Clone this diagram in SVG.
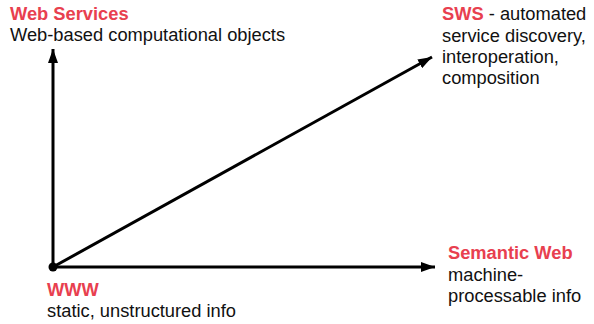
<svg xmlns="http://www.w3.org/2000/svg" width="594" height="324" viewBox="0 0 594 324">
<defs>
<marker id="ah" viewBox="0 0 14 10" refX="14" refY="5" markerWidth="14" markerHeight="10" markerUnits="userSpaceOnUse" orient="auto">
<path d="M0,0 L14,5 L0,10 Z" fill="#000"/>
</marker>
</defs>
<style>
text{font-family:"Liberation Sans",Arial,sans-serif;font-size:18.3px;fill:#111}
.r{fill:#e8404f;font-weight:bold}
.ln{stroke:#000;stroke-width:3;fill:none;marker-end:url(#ah)}
</style>
<rect width="594" height="324" fill="#fff"/>
<g id="connectors">
<line class="ln" x1="53" y1="267" x2="53" y2="49"/>
<line class="ln" x1="53" y1="267" x2="435" y2="267"/>
<line class="ln" x1="53" y1="267" x2="432" y2="57"/>
<circle cx="53" cy="267" r="4.5" fill="#000"/>
</g>
<g id="web-services">
<text x="10" y="20" class="r">Web Services</text>
<text x="10" y="41">Web-based computational objects</text>
</g>
<g id="sws">
<text x="442" y="20"><tspan class="r">SWS</tspan> - automated</text>
<text x="442" y="42">service discovery,</text>
<text x="442" y="63">interoperation,</text>
<text x="442" y="84">composition</text>
</g>
<g id="semantic-web">
<text x="448" y="259" class="r">Semantic Web</text>
<text x="448" y="281">machine-</text>
<text x="448" y="302">processable info</text>
</g>
<g id="www">
<text x="47" y="296" class="r">WWW</text>
<text x="47" y="317">static, unstructured info</text>
</g>
</svg>
